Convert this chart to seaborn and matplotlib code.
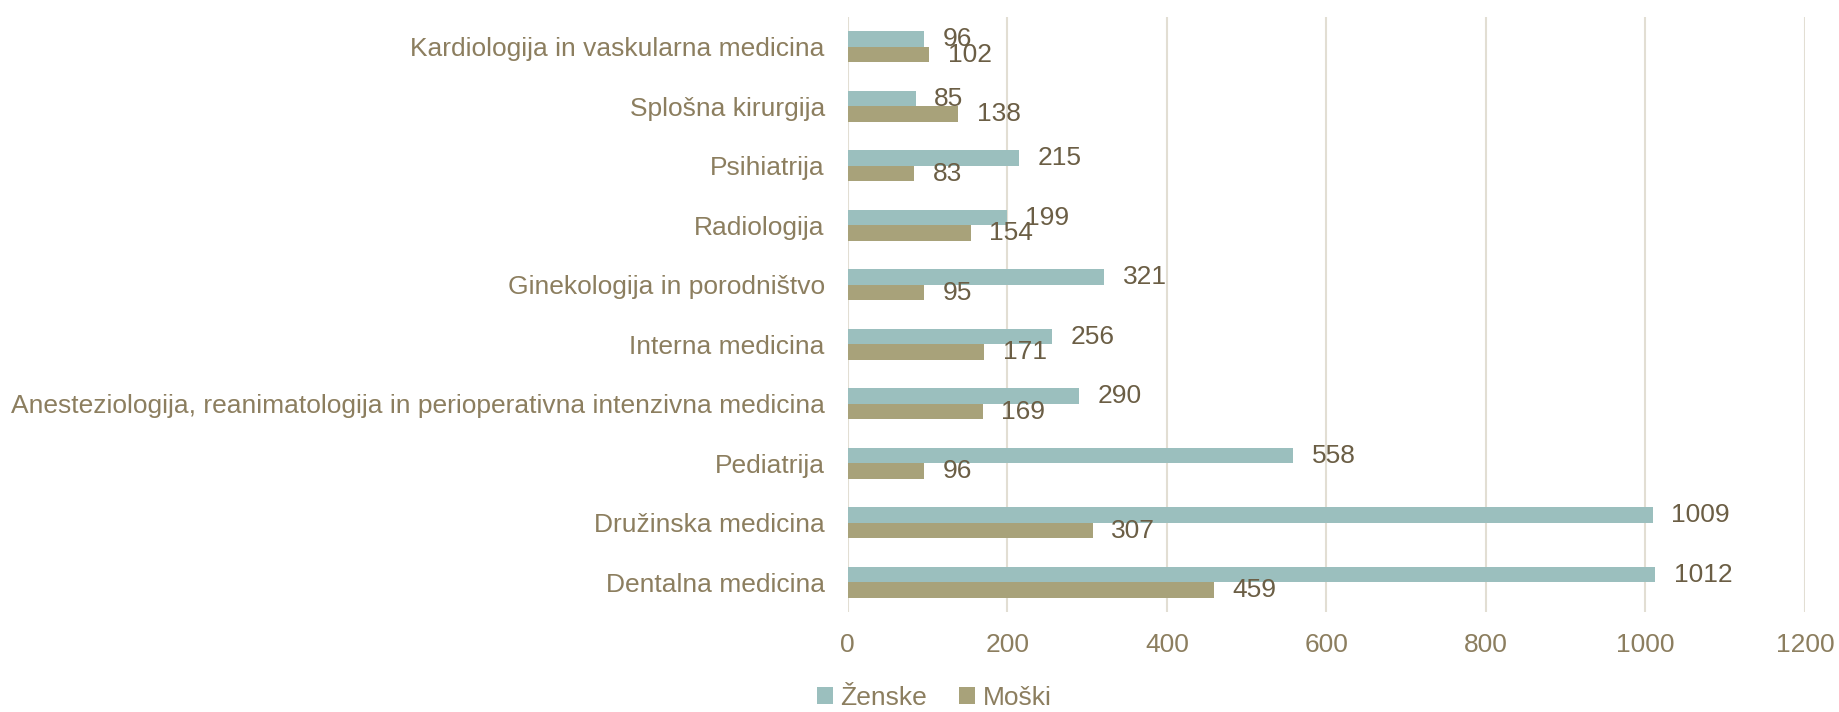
# Specializanti po spolu - vodoravni stolpični diagram
import pandas as pd
import matplotlib
matplotlib.use('Agg')
import matplotlib.pyplot as plt
import seaborn as sns

# podatki
kategorije = ['Kardiologija in vaskularna medicina', 'Splošna kirurgija', 'Psihiatrija',
              'Radiologija', 'Ginekologija in porodništvo', 'Interna medicina',
              'Anesteziologija, reanimatologija in perioperativna intenzivna medicina',
              'Pediatrija', 'Družinska medicina', 'Dentalna medicina']
zenske = [96, 85, 215, 199, 321, 256, 290, 558, 1009, 1012]
moski = [102, 138, 83, 154, 95, 171, 169, 96, 307, 459]
spoli = ['Ženske', 'Moški']
barve = ['#9BBFBE', '#A8A27A']

df = pd.DataFrame({
    'kategorija': kategorije * 2,
    'spol': ['Ženske'] * len(kategorije) + ['Moški'] * len(kategorije),
    'stevilo': zenske + moski,
})

sns.set_theme(style='white')
plt.rcParams['font.family'] = ['Liberation Sans', 'DejaVu Sans']
barva_besedila = '#8C7E5F'
barva_oznak = '#6B5E45'
vel = 19

fig, ax = plt.subplots(figsize=(18.39, 7.12), dpi=100)
fig.subplots_adjust(left=0.461, right=0.9815, top=0.976, bottom=0.1404)

sns.barplot(data=df, y='kategorija', x='stevilo', hue='spol', hue_order=spoli,
            order=kategorije, palette=barve, orient='h', width=0.52,
            saturation=1, linewidth=0, ax=ax)

# oznake vrednosti
for cont in ax.containers:
    ax.bar_label(cont, padding=13.5, fontsize=vel, color=barva_oznak)

ax.set_xlim(0, 1200)
ax.set_xticks(range(0, 1201, 200))
ax.set_xlabel('')
ax.set_ylabel('')
ax.grid(axis='x', color='#E2DED3', linewidth=1.5)
ax.set_axisbelow(True)
for s in ax.spines.values():
    s.set_visible(False)
ax.tick_params(axis='y', length=0, pad=16.5, labelsize=vel, labelcolor=barva_besedila)
ax.tick_params(axis='x', length=0, pad=15, labelsize=vel, labelcolor=barva_besedila)

# legenda spodaj
ax.get_legend().remove()
h, l = ax.get_legend_handles_labels()
fig.legend(h[:2], l[:2], loc='center', bbox_to_anchor=(0.508, 0.02), ncol=2,
           frameon=False, fontsize=vel, labelcolor=barva_besedila,
           handlelength=0.6, handleheight=0.6, handletextpad=0.3, columnspacing=1.2)

plt.savefig('out.png', dpi=100)
